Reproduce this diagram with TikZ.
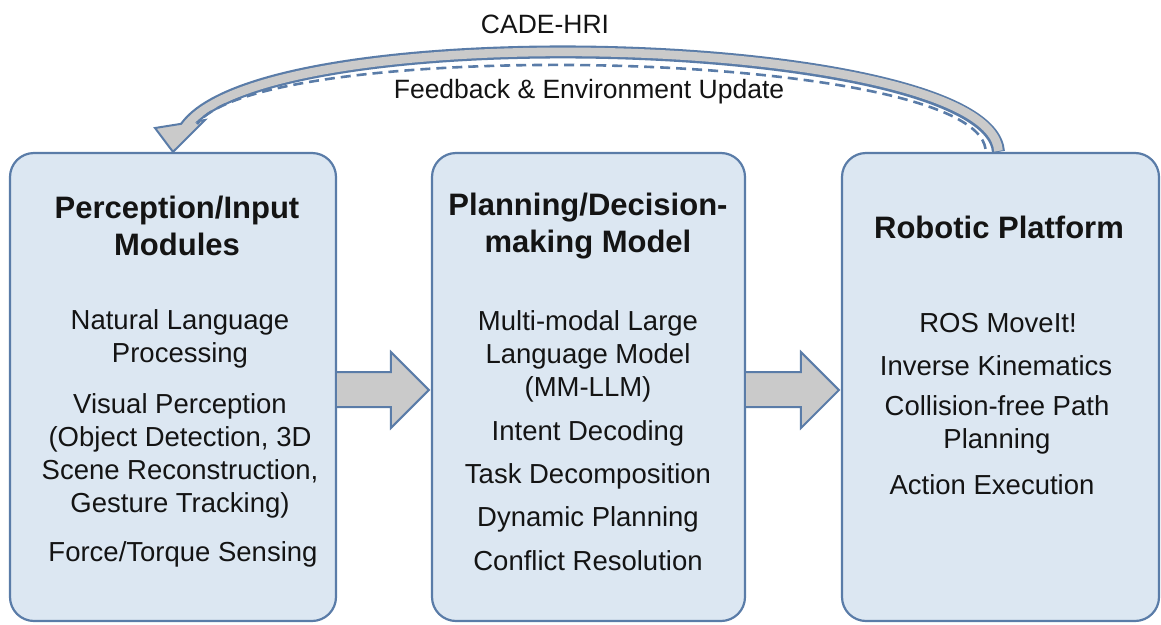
\documentclass[tikz,border=0pt]{standalone}
\usepackage{fontspec}
\setmainfont{Liberation Sans}
\usetikzlibrary{calc}
\definecolor{boxfill}{HTML}{DCE7F2}
\definecolor{boxline}{HTML}{5A7CA8}
\definecolor{arrowfill}{HTML}{CACACA}
\definecolor{ink}{HTML}{141414}
\begin{document}
\begin{tikzpicture}[x=1pt,y=-1pt,
  panel/.style={draw=boxline, fill=boxfill, line width=2.2pt, rounded corners=24pt,
    minimum height=468pt, inner sep=0pt},
  heading/.style={font=\fontsize{31}{37}\selectfont\bfseries, text=ink, align=center, inner sep=0pt},
  item/.style={font=\fontsize{27.5}{33}\selectfont, text=ink, align=center, inner sep=0pt},
  label/.style={font=\fontsize{26.5}{30}\selectfont, text=ink, inner sep=0pt},
  flowarrow/.style={draw=boxline, fill=arrowfill, line width=2pt, line join=miter},
  loopedge/.style={draw=boxline, line width=2.6pt, dash pattern=on 10pt off 6pt}]
\useasboundingbox (0,0) rectangle (1161,624);

% the three stages
\node[panel, minimum width=326pt] (perc) at (173,387) {};
\node[panel, minimum width=313pt] (plan) at (588.5,387) {};
\node[panel, minimum width=317pt] (robot) at (1000.5,387) {};

% perception stage
\node[heading] (percT) at (177,226) {Perception/Input\\Modules};
\node[item] (nlp) at (180,339) {Natural Language\\Processing};
\node[item] (vis) at (180,456) {Visual Perception\\(Object Detection, 3D\\Scene Reconstruction,\\Gesture Tracking)};
\node[item] (force) at (183,554) {Force/Torque Sensing};

% planning stage
\node[heading] (planT) at (588,226) {Planning/Decision-\\making Model};
\node[item] (llm) at (588,356) {Multi-modal Large\\Language Model\\(MM-LLM)};
\node[item] (intent) at (588,433) {Intent Decoding};
\node[item] (task) at (588,476) {Task Decomposition};
\node[item] (dyn) at (588,519) {Dynamic Planning};
\node[item] (conf) at (588,561) {Conflict Resolution};

% robot stage
\node[heading] (robotT) at (999,227) {Robotic Platform};
\node[item] (ros) at (998,323) {ROS MoveIt!};
\node[item] (ik) at (996,366) {Inverse Kinematics};
\node[item] (path) at (997,425) {Collision-free Path\\Planning};
\node[item] (exec) at (992,485) {Action Execution};

% block arrows between stages
\coordinate (sTop) at (0,372);
\coordinate (sBot) at (0,407);
\coordinate (hTop) at (0,352);
\coordinate (hBot) at (0,428);
\coordinate (hMid) at (0,390);
\draw[flowarrow] (perc.east |- sTop) -- ($(plan.west |- sTop)+(-40,0)$) -- ($(plan.west |- hTop)+(-40,0)$)
  -- ($(plan.west |- hMid)+(-2,0)$) -- ($(plan.west |- hBot)+(-40,0)$) -- ($(plan.west |- sBot)+(-40,0)$)
  -- (perc.east |- sBot);
\draw[flowarrow] (plan.east |- sTop) -- ($(robot.west |- sTop)+(-40,0)$) -- ($(robot.west |- hTop)+(-40,0)$)
  -- ($(robot.west |- hMid)+(-2,0)$) -- ($(robot.west |- hBot)+(-40,0)$) -- ($(robot.west |- sBot)+(-40,0)$)
  -- (plan.east |- sBot);

% feedback loop from the robot back to perception
\coordinate (loopEnd) at (183,131);
\coordinate (headL) at (155,128);
\coordinate (headR) at (205,120);
\draw[boxline, line width=13pt] ($(robot.north)+(-2,0)$) .. controls (990,33) and (250,13) .. (loopEnd);
\draw[flowarrow] (headL) -- (perc.north) -- (headR) -- cycle;
\draw[arrowfill, line width=8.6pt] ($(robot.north)+(-2,-1)$) .. controls (990,33) and (250,13) .. (loopEnd);
\draw[loopedge] ($(robot.north)+(-15,-3)$) .. controls (972,48) and (262,36) .. (197,124);

\node[label] (cade) at (545,24) {CADE-HRI};
\node[label] (fb) at (589,92) {Feedback \& Environment Update};
\end{tikzpicture}
\end{document}
